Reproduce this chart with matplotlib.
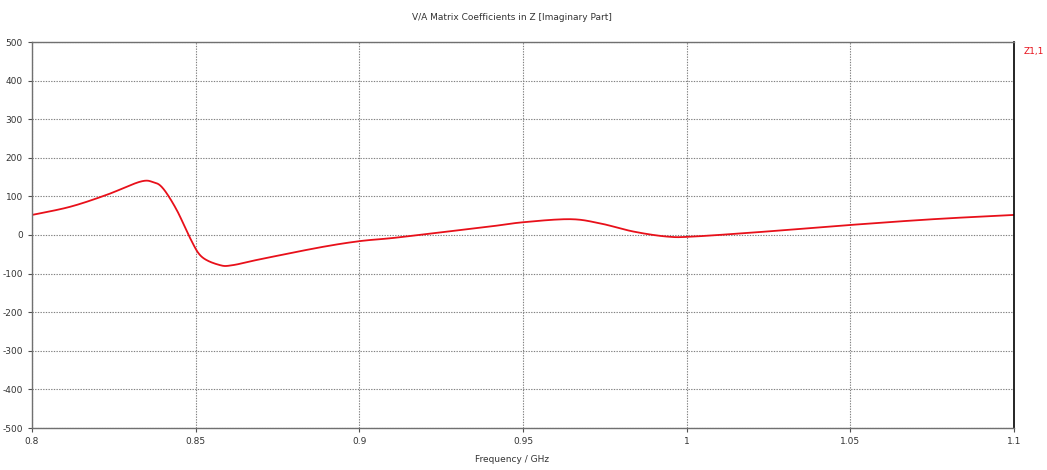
import matplotlib
matplotlib.use("Agg")
import matplotlib.pyplot as plt
import numpy as np

freq = [0.800, 0.8116, 0.8228, 0.833, 0.837, 0.840, 0.8442, 0.8483, 0.8518, 0.8574,
        0.8614, 0.8696, 0.888, 0.900, 0.910, 0.920, 0.930, 0.940, 0.950, 0.9644,
        0.9736, 0.9837, 0.9939, 1.002, 1.0244, 1.050, 1.0754, 1.100]
z11_imag = [52, 73, 104, 138, 137, 121, 65, -8, -56, -78,
            -78, -63, -32, -16, -8, 2, 12, 22, 33, 41,
            30, 9, -4, -4, 9, 26, 41, 52]

xticks = [0.8, 0.85, 0.9, 0.95, 1.0, 1.05, 1.1]
xticklabels = ["0.8", "0.85", "0.9", "0.95", "1", "1.05", "1.1"]
yticks = [-500, -400, -300, -200, -100, 0, 100, 200, 300, 400, 500]

plt.rcParams['font.family'] = ['DejaVu Sans']
plt.rcParams['axes.unicode_minus'] = False
fig = plt.figure(figsize=(10.47, 4.70), dpi=100)
ax = fig.add_axes([32/1047, 1-428/470, (1014-32)/1047, (428-42)/470])

def catmull(xs, ys, n=20):
    xs = np.asarray(xs, float); ys = np.asarray(ys, float)
    P = np.column_stack([xs, ys])
    P = np.vstack([P[0], P, P[-1]])
    out = []
    for i in range(1, len(P) - 2):
        p0, p1, p2, p3 = P[i-1], P[i], P[i+1], P[i+2]
        t = np.linspace(0, 1, n, endpoint=False)[:, None]
        pts = 0.5 * ((2*p1) + (-p0 + p2)*t + (2*p0 - 5*p1 + 4*p2 - p3)*t**2 + (-p0 + 3*p1 - 3*p2 + p3)*t**3)
        out.append(pts)
    out.append(P[-2][None, :])
    return np.vstack(out)

C = catmull(freq, z11_imag)
ax.plot(C[:, 0], C[:, 1], color="#e8101a", lw=1.3)

ax.set_xlim(0.8, 1.1)
ax.set_ylim(-500, 500)
ax.set_xticks(xticks)
ax.set_xticklabels(xticklabels)
ax.set_yticks(yticks)
ax.grid(True, linestyle=(0, (1.2, 1.2)), color="#808080", lw=0.8)
ax.tick_params(labelsize=6.5, length=3, width=0.8, colors="#505050", labelcolor="#333333")
for s in ["left", "bottom", "top"]:
    ax.spines[s].set_color("#707070")
    ax.spines[s].set_linewidth(1.0)
ax.spines["right"].set_color("#000000")
ax.spines["right"].set_linewidth(1.2)

fig.text(512/1047, 1-18/470, "V/A Matrix Coefficients in Z [Imaginary Part]", ha="center", va="center", fontsize=6.5, color="#333333")
fig.text(512/1047, 1-460/470, "Frequency / GHz", ha="center", va="center", fontsize=6.5, color="#333333")
fig.text(1024/1047, 1-52/470, "Z1,1", ha="left", va="center", fontsize=6.5, color="#e8101a")

fig.savefig("out.png", dpi=100)
